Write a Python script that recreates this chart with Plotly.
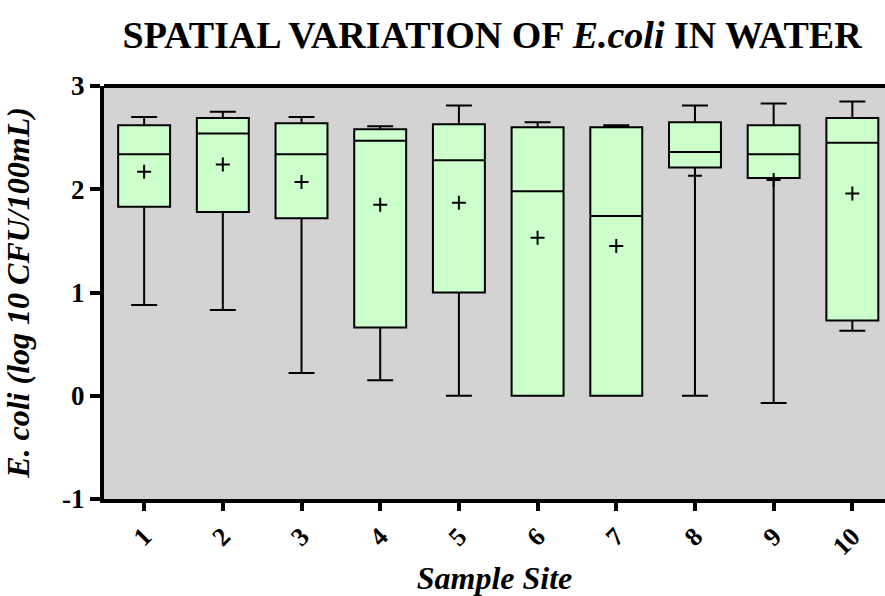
import plotly.graph_objects as go

sites = [1, 2, 3, 4, 5, 6, 7, 8, 9, 10]
site_labels = ["1", "2", "3", "4", "5", "6", "7", "8", "9", "10"]
y_ticks = [-1, 0, 1, 2, 3]
y_tick_labels = ["-1", "0", "1", "2", "3"]
upper = [2.70, 2.75, 2.70, 2.61, 2.81, 2.65, 2.62, 2.81, 2.83, 2.85]
q3 = [2.62, 2.69, 2.64, 2.58, 2.63, 2.60, 2.60, 2.65, 2.62, 2.69]
median = [2.34, 2.54, 2.34, 2.47, 2.28, 1.98, 1.74, 2.36, 2.34, 2.45]
q1 = [1.83, 1.78, 1.72, 0.66, 1.00, 0.00, 0.00, 2.21, 2.11, 0.73]
lower = [0.88, 0.83, 0.22, 0.15, 0.00, 0.00, 0.00, 0.00, -0.07, 0.63]
mean = [2.17, 2.24, 2.07, 1.85, 1.87, 1.53, 1.45, 2.13, 2.09, 1.96]

serif = "Liberation Serif, Times New Roman, serif"

fig = go.Figure()
fig.add_trace(go.Box(
    x=sites, q1=q1, median=median, q3=q3,
    lowerfence=lower, upperfence=upper,
    width=0.66, whiskerwidth=0.5,
    fillcolor="#ccffcc",
    line=dict(color="black", width=2),
    boxpoints=False, showlegend=False, hoverinfo="skip",
))
fig.add_trace(go.Scatter(
    x=sites, y=mean, mode="markers", showlegend=False,
    marker=dict(symbol="cross-thin", size=10, color="black",
                line=dict(color="black", width=2)),
))

fig.update_layout(
    width=885, height=596,
    margin=dict(l=104, r=0, t=86, b=97, autoexpand=False),
    paper_bgcolor="white", plot_bgcolor="#d3d3d3",
    font=dict(family=serif, color="black"),
    title=dict(
        text="SPATIAL VARIATION OF <i>E.coli</i> IN WATER",
        font=dict(family=serif, size=38, weight="bold", color="black"),
        x=0.556, xanchor="center", y=0.942, yanchor="middle",
    ),
)
fig.update_xaxes(
    range=[0.49, 10.415], tickmode="array", tickvals=sites, ticktext=site_labels,
    tickangle=-45, ticks="outside", ticklen=8, tickwidth=4, tickcolor="black",
    showline=True, linewidth=4, linecolor="black", mirror=False,
    showgrid=False, zeroline=False, automargin=False,
    tickfont=dict(family=serif, size=26, weight="bold"),
    title=dict(text="<i>Sample Site</i>", standoff=8,
               font=dict(family=serif, size=32, weight="bold")),
)
fig.update_yaxes(
    range=[-1, 3], tickmode="array", tickvals=y_ticks, ticktext=y_tick_labels,
    ticks="outside", ticklen=10, tickwidth=4, tickcolor="black",
    showline=True, linewidth=4, linecolor="black",
    showgrid=False, zeroline=False, automargin=False,
    tickfont=dict(family=serif, size=27, weight="bold"),
    title=dict(text="<i>E. coli (log 10 CFU/100mL)</i>", standoff=26,
               font=dict(family=serif, size=32, weight="bold")),
)
# top frame line
fig.add_shape(type="line", xref="paper", yref="paper", x0=0, x1=1, y0=1, y1=1,
              line=dict(color="black", width=4))

fig.write_html(
    "out.html",
    config={"displayModeBar": False},
    post_script="document.body.style.margin='0px';document.body.style.overflow='hidden';",
)
